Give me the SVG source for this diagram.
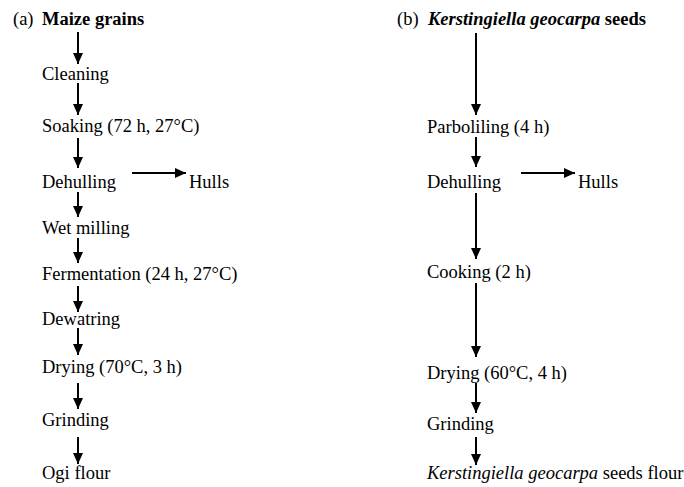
<svg xmlns="http://www.w3.org/2000/svg" width="684" height="487" viewBox="0 0 684 487">
<defs>
<marker id="ah" viewBox="0 0 11 10" refX="11" refY="5" markerWidth="11" markerHeight="10" orient="auto" markerUnits="userSpaceOnUse">
<path d="M0,0 L11,5 L0,10 z" fill="#000"/>
</marker>
</defs>
<style>
text{font-family:"Liberation Serif","Times New Roman",serif;font-size:18.5px;fill:#000}
.b{font-weight:bold}
.i{font-style:italic}
.c line{stroke:#000;stroke-width:2;marker-end:url(#ah)}
</style>
<rect width="684" height="487" fill="#fff"/>
<g id="panel-a">
<g id="a-start"><text x="13" y="25">(a)</text><text x="42" y="25" class="b">Maize grains</text></g>
<g id="a-cleaning"><text x="42" y="80">Cleaning</text></g>
<g id="a-soaking"><text x="42" y="132">Soaking (72 h, 27°C)</text></g>
<g id="a-dehulling"><text x="42" y="188">Dehulling</text></g>
<g id="a-hulls"><text x="189" y="188">Hulls</text></g>
<g id="a-wetmilling"><text x="42" y="234">Wet milling</text></g>
<g id="a-fermentation"><text x="42" y="280">Fermentation (24 h, 27°C)</text></g>
<g id="a-dewatring"><text x="42" y="325">Dewatring</text></g>
<g id="a-drying"><text x="42" y="373">Drying (70°C, 3 h)</text></g>
<g id="a-grinding"><text x="42" y="426">Grinding</text></g>
<g id="a-flour"><text x="42" y="479">Ogi flour</text></g>
</g>
<g id="panel-b">
<g id="b-start"><text x="397" y="25">(b)</text><text x="428" y="25" class="b"><tspan class="i">Kerstingiella geocarpa</tspan> seeds</text></g>
<g id="b-parboiling"><text x="427" y="133">Parboliling (4 h)</text></g>
<g id="b-dehulling"><text x="427" y="188">Dehulling</text></g>
<g id="b-hulls"><text x="578" y="188">Hulls</text></g>
<g id="b-cooking"><text x="427" y="278">Cooking (2 h)</text></g>
<g id="b-drying"><text x="427" y="379">Drying (60°C, 4 h)</text></g>
<g id="b-grinding"><text x="427" y="430">Grinding</text></g>
<g id="b-flour"><text x="427" y="479"><tspan class="i">Kerstingiella geocarpa</tspan> seeds flour</text></g>
</g>
<g id="connectors" class="c">
<line x1="78" y1="32" x2="78" y2="64"/>
<line x1="78" y1="83" x2="78" y2="115"/>
<line x1="78" y1="138" x2="78" y2="168"/>
<line x1="132" y1="173" x2="186" y2="173"/>
<line x1="78" y1="192" x2="78" y2="217"/>
<line x1="78" y1="238" x2="78" y2="263"/>
<line x1="78" y1="286" x2="78" y2="312"/>
<line x1="78" y1="328" x2="78" y2="355"/>
<line x1="78" y1="383" x2="78" y2="409"/>
<line x1="78" y1="437" x2="78" y2="464"/>
<line x1="476" y1="33" x2="476" y2="115"/>
<line x1="476" y1="137" x2="476" y2="167"/>
<line x1="521" y1="173" x2="575" y2="173"/>
<line x1="476" y1="193" x2="476" y2="259"/>
<line x1="476" y1="283" x2="476" y2="357"/>
<line x1="476" y1="383" x2="476" y2="413"/>
<line x1="476" y1="437" x2="476" y2="465"/>
</g>
</svg>
